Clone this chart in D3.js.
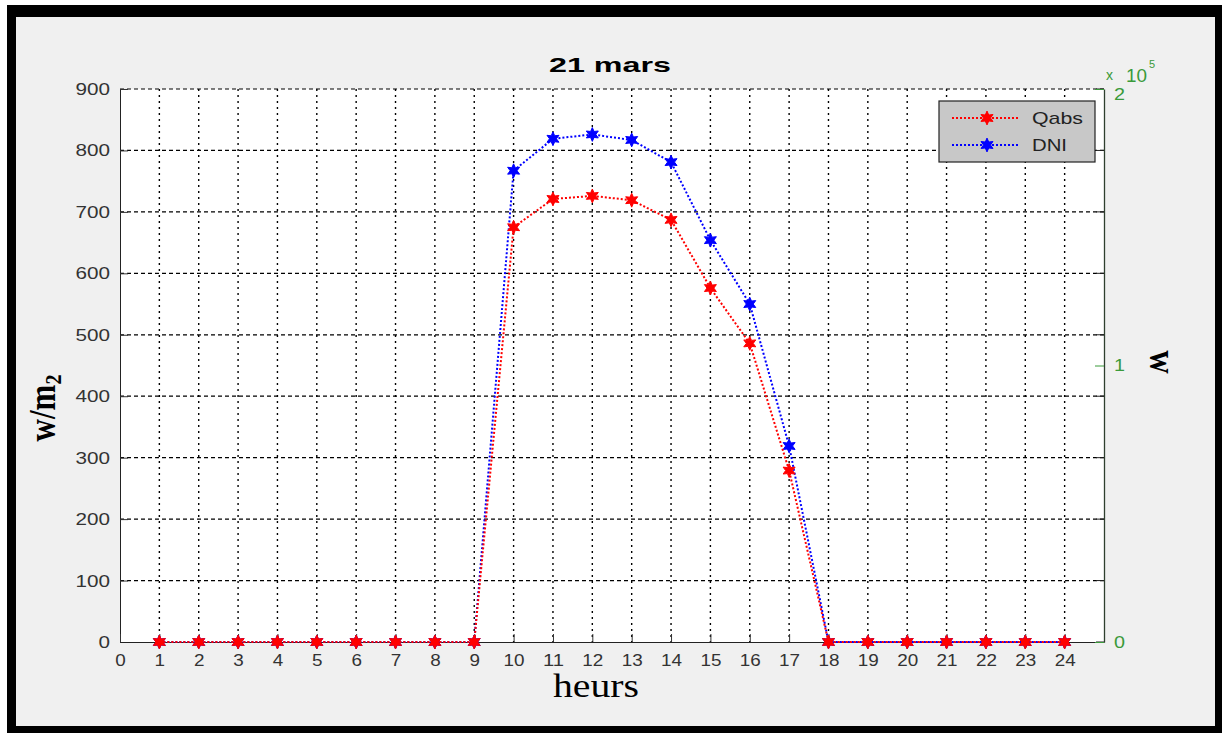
<!DOCTYPE html>
<html>
<head>
    <script src="https://d3js.org/d3.v7.min.js"></script>
    <style>
      body { margin: 0; background: #fff; }
      text { font-family: Arial, "Liberation Sans", sans-serif; }
    </style>
</head>
<body>
<script>
  var width = 1225;
  var height = 733;

  // data
  var hours = [1,2,3,4,5,6,7,8,9,10,11,12,13,14,15,16,17,18,19,20,21,22,23,24];
  var qabs = [0,0,0,0,0,0,0,0,0,675,721,726,719,687,576,486,279,0,0,0,0,0,0,0];
  var dni  = [0,0,0,0,0,0,0,0,0,767,819,826,817,781,654,550,319,0,0,0,0,0,0,0];
  var xTicks = [0,1,2,3,4,5,6,7,8,9,10,11,12,13,14,15,16,17,18,19,20,21,22,23,24];
  var yTicks = [0,100,200,300,400,500,600,700,800,900];
  var y2Ticks = [0,100000,200000];
  var seriesNames = ["Qabs","DNI"];
  var seriesColors = ["#ff0000","#0000ff"];

  var svg = d3.select("body").append("svg")
    .attr("width",width)
    .attr("height",height);

  // black frame + grey figure background
  svg.append("rect").attr("x",7).attr("y",5).attr("width",1215).attr("height",728).attr("fill","#000");
  svg.append("rect").attr("x",16).attr("y",17).attr("width",1199).attr("height",709).attr("fill","#f0f0f0");

  var x = d3.scaleLinear().domain([0,25]).range([120,1104]);
  var y = d3.scaleLinear().domain([0,900]).range([642,89]);
  var y2 = d3.scaleLinear().domain([0,200000]).range([642,89]);

  svg.append("rect")
    .attr("x",x(0)).attr("y",y(900))
    .attr("width",x(25)-x(0)).attr("height",y(0)-y(900))
    .attr("fill","#fff");

  // grid
  svg.selectAll(".hgrid").data(yTicks.filter(function(d){ return d > 0; }))
    .enter().append("line")
    .attr("x1",x(0)).attr("x2",x(25))
    .attr("y1",function(d){ return y(d); }).attr("y2",function(d){ return y(d); })
    .style("stroke","#000").style("stroke-width",1.2)
    .style("stroke-dasharray","4,3");

  svg.selectAll(".vgrid").data(xTicks.filter(function(d){ return d > 0; }))
    .enter().append("line")
    .attr("x1",function(d){ return x(d); }).attr("x2",function(d){ return x(d); })
    .attr("y1",y(900)).attr("y2",y(0))
    .style("stroke","#000").style("stroke-width",1.4)
    .style("stroke-dasharray","2,4");

  function styleTicks(g, color) {
    g.selectAll("text")
      .style("font-size","17px")
      .attr("fill",color);
    g.selectAll("line").attr("stroke",color);
  }

  // left axis
  var gLeft = svg.append("g").attr("transform","translate(" + x(0) + ",0)")
    .call(d3.axisLeft(y).tickValues(yTicks).tickSizeInner(-8).tickSizeOuter(0).tickPadding(10));
  styleTicks(gLeft,"#333");
  gLeft.select(".domain").attr("stroke","#222");
  gLeft.selectAll(".tick text")
    .attr("textLength",function(d){ return String(d).length * 11.5; })
    .attr("lengthAdjust","spacingAndGlyphs");

  // bottom axis
  var gBottom = svg.append("g").attr("transform","translate(0," + y(0) + ")")
    .call(d3.axisBottom(x).tickValues(xTicks).tickSizeInner(-8).tickSizeOuter(0).tickPadding(12));
  styleTicks(gBottom,"#333");
  gBottom.select(".domain").attr("stroke","#222");
  gBottom.selectAll(".tick text")
    .attr("textLength",function(d){ return String(d).length * 10.5; })
    .attr("lengthAdjust","spacingAndGlyphs");

  // mirrored left ticks on the right side
  svg.selectAll(".rtick").data(yTicks)
    .enter().append("line")
    .attr("x1",x(25)).attr("x2",x(25)-8)
    .attr("y1",function(d){ return y(d); }).attr("y2",function(d){ return y(d); })
    .style("stroke","#222");

  // right axis (x 10^5)
  var green = "#3a9a3a";
  var gRight = svg.append("g").attr("transform","translate(" + x(25) + ",0)")
    .call(d3.axisRight(y2).tickValues(y2Ticks).tickFormat(function(d){ return d / 100000; })
      .tickSizeInner(-9).tickSizeOuter(0).tickPadding(10));
  styleTicks(gRight,green);
  gRight.select(".domain").attr("stroke","#2f3f2f").attr("stroke-width",1.3);
  gRight.selectAll(".tick text").attr("textLength",11).attr("lengthAdjust","spacingAndGlyphs")
    .attr("dy",function(d){ return d === 200000 ? "0.6em" : "0.32em"; });

  svg.append("text").attr("x",1106).attr("y",80)
    .attr("fill",green).style("font-size","14px").text("x");
  svg.append("text").attr("x",1126).attr("y",82)
    .attr("fill",green).style("font-size","19px")
    .attr("textLength",21).attr("lengthAdjust","spacingAndGlyphs").text("10");
  svg.append("text").attr("x",1149).attr("y",68)
    .attr("fill",green).style("font-size","11px").text("5");

  // lines
  var line = d3.line()
    .x(function(d){ return x(d[0]); })
    .y(function(d){ return y(d[1]); });

  var hexagram = {
    draw: function(context, size) {
      var r = Math.sqrt(size) * 0.75;
      var ri = r * 0.5;
      for (var i = 0; i < 12; i++) {
        var a = Math.PI / 6 * i - Math.PI / 2;
        var rr = (i % 2 === 0) ? r : ri;
        if (i === 0) context.moveTo(rr * Math.cos(a), rr * Math.sin(a));
        else context.lineTo(rr * Math.cos(a), rr * Math.sin(a));
      }
      context.closePath();
    }
  };
  var marker = d3.symbol().type(hexagram).size(85);

  var series = [dni, qabs];
  var cols = [seriesColors[1], seriesColors[0]];

  series.forEach(function(vals, i) {
    var pts = hours.map(function(h, j){ return [h, vals[j]]; });
    svg.append("path")
      .datum(pts)
      .attr("d",line)
      .attr("fill","none")
      .style("stroke",cols[i])
      .style("stroke-width",2)
      .style("stroke-dasharray","2,2");
    svg.selectAll(".m" + i).data(pts)
      .enter().append("path")
      .attr("d",marker)
      .attr("transform",function(d){ return "translate(" + x(d[0]) + "," + y(d[1]) + ")"; })
      .attr("fill",cols[i])
      .attr("stroke",cols[i])
      .attr("stroke-width",1);
  });

  // title and labels
  svg.append("text")
    .attr("x",610).attr("y",72)
    .attr("text-anchor","middle")
    .style("font-size","21px").style("font-weight","bold")
    .attr("textLength",122).attr("lengthAdjust","spacingAndGlyphs")
    .text("21 mars");

  svg.append("text")
    .attr("x",596).attr("y",697)
    .attr("text-anchor","middle")
    .style("font-family","'Liberation Serif', 'DejaVu Serif', serif")
    .style("font-size","33px")
    .attr("textLength",86).attr("lengthAdjust","spacingAndGlyphs")
    .text("heurs");

  var yl = svg.append("text")
    .attr("transform","translate(55,408) rotate(-90) scale(1,1.2)")
    .attr("text-anchor","middle")
    .style("font-family","'Liberation Serif', 'DejaVu Serif', serif")
    .style("font-size","31px").style("font-weight","bold");
  yl.append("tspan").text("w/m");
  yl.append("tspan").attr("dy",5).style("font-size","20px").text("2");

  svg.append("text")
    .attr("transform","translate(1150,362) rotate(90) scale(1,1.2)")
    .attr("text-anchor","middle")
    .style("font-family","'Liberation Serif', 'DejaVu Serif', serif")
    .style("font-size","32px").style("font-weight","bold")
    .text("w");

  // legend
  var legend = svg.append("g");
  legend.append("rect")
    .attr("x",939).attr("y",101).attr("width",156).attr("height",61)
    .attr("fill","#c8c8c8").attr("stroke","#222").attr("stroke-width",1.2);
  var legendRows = legend.selectAll(".row").data(seriesNames)
    .enter().append("g")
    .attr("transform",function(d,i){ return "translate(0," + (118 + i * 27) + ")"; });
  legendRows.append("line")
    .attr("x1",952).attr("x2",1018)
    .style("stroke",function(d,i){ return seriesColors[i]; })
    .style("stroke-width",2).style("stroke-dasharray","2,2");
  legendRows.append("path")
    .attr("d",marker)
    .attr("transform","translate(987,0)")
    .attr("fill",function(d,i){ return seriesColors[i]; })
    .attr("stroke",function(d,i){ return seriesColors[i]; });
  legendRows.append("text")
    .attr("x",1032).attr("y",6)
    .style("font-size","17px").attr("fill","#222")
    .attr("textLength",function(d){ return d === "Qabs" ? 51 : 35; })
    .attr("lengthAdjust","spacingAndGlyphs")
    .text(function(d){ return d; });
</script>
</body>
</html>
